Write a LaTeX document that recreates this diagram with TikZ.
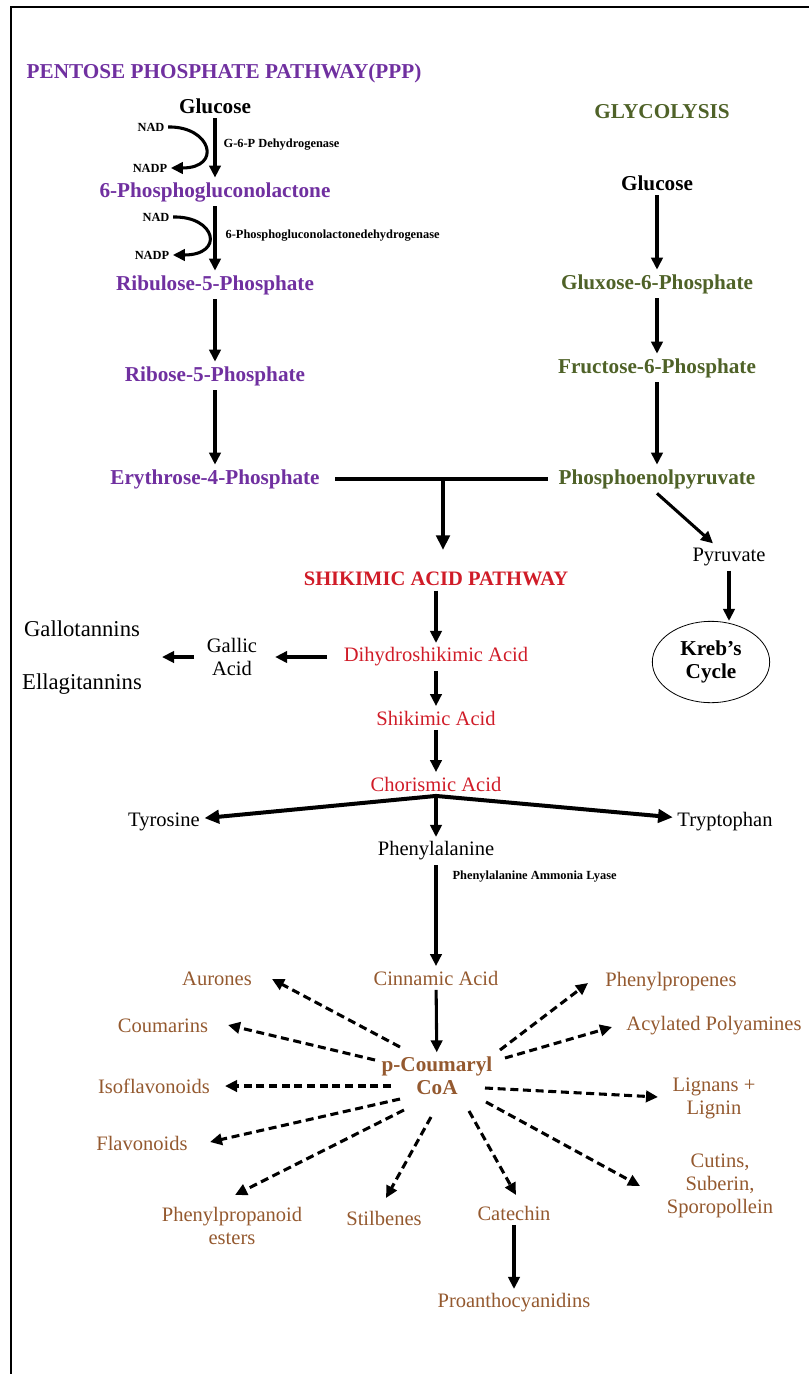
\documentclass[tikz,border=0pt]{standalone}
\usepackage{fontspec}
\setmainfont{Liberation Serif}
\usetikzlibrary{arrows.meta,calc,shapes.geometric}
\definecolor{pppcol}{HTML}{7030A0}
\definecolor{glycol}{HTML}{4F6228}
\definecolor{shikcol}{HTML}{D01C28}
\definecolor{phencol}{HTML}{94592F}
\newcommand{\bigfont}{\fontsize{15.4}{17.25}\selectfont}
\newcommand{\boldfont}{\fontsize{15.9}{17.25}\selectfont\bfseries}
\newcommand{\tanfont}{\fontsize{17}{19}\selectfont}
\newcommand{\enzfont}{\fontsize{9.3}{10}\selectfont}
\tikzset{
  base/.style={font=\bigfont, align=center},
  bold/.style={font=\boldfont, align=center},
  ppp/.style={bold, text=pppcol},
  gly/.style={bold, text=glycol},
  shik/.style={base, text=shikcol},
  phen/.style={base, text=phencol},
  enz/.style={font=\enzfont\bfseries, inner sep=2.5pt},
  arr/.style={line width=2.3pt, -{Triangle[length=9pt,width=8.5pt]}},
  bigarr/.style={line width=3pt, -{Triangle[length=11pt,width=10pt]}},
  darr/.style={arr, dash pattern=on 6pt off 3.5pt},
  bar/.style={line width=3.5pt}
}
\begin{document}
\begin{tikzpicture}[x=0.75pt, y=-0.75pt]
\useasboundingbox (0,0) rectangle (809,1374);
\draw[line width=1.6pt] (11,1374) -- (11,7) -- (809,7);

% pentose phosphate pathway
\node[ppp] (ppp) at (224,73) {PENTOSE PHOSPHATE PATHWAY(PPP)};
\node[bold] (glcA) at (215,106) {Glucose};
\node[enz] (nadA) at (151,127) {NAD};
\node[enz] (nadpA) at (150,168) {NADP};
\node[enz, anchor=west] (enzA) at (220,145) {G-6-P Dehydrogenase};
\node[ppp] (pgl) at (215,192) {6-Phosphogluconolactone};
\node[enz] (nadB) at (156,217) {NAD};
\node[enz] (nadpB) at (152,255) {NADP};
\node[enz, anchor=west] (enzB) at (222,236) {6-Phosphogluconolactonedehydrogenase};
\node[ppp] (ru5p) at (215,285) {Ribulose-5-Phosphate};
\node[ppp] (r5p) at (215,376) {Ribose-5-Phosphate};
\node[ppp] (e4p) at (215,479) {Erythrose-4-Phosphate};
\draw[arr] (glcA) -- (pgl);
\draw[arr] (pgl) -- (ru5p);
\draw[arr] (ru5p) -- (r5p);
\draw[arr] (r5p) -- (e4p);
\draw[arr] (nadA.east) .. controls +(43,-1) and +(52,0) .. (nadpA.east);
\draw[arr] (nadB.east) .. controls +(43,-1) and +(52,0) .. (nadpB.east);

% glycolysis
\node[gly] (glyc) at (662,112) {GLYCOLYSIS};
\node[bold] (glcB) at (657,183) {Glucose};
\node[gly] (g6p) at (657,284) {Gluxose-6-Phosphate};
\node[gly] (f6p) at (657,368) {Fructose-6-Phosphate};
\node[gly] (pep) at (657,479) {Phosphoenolpyruvate};
\node[base] (pyr) at (729,557) {Pyruvate};
\node[bold, ellipse, draw, line width=0.6pt, minimum width=88pt, minimum height=61pt] (krebs) at (711,662) {Kreb's\\Cycle};
\draw[arr] (glcB) -- (g6p);
\draw[arr] (g6p) -- (f6p);
\draw[arr] (f6p) -- (pep);
\draw[arr] (pep.south) -- ($(pyr.north)+(-16,0)$);
\draw[arr] (pyr) -- (pyr |- krebs.north);

% shikimic acid pathway
\coordinate (jn) at (443,480);
\node[shik, font=\bigfont\bfseries] (shik) at (436,579) {SHIKIMIC ACID PATHWAY};
\node[shik] (dhs) at (436,657) {Dihydroshikimic Acid};
\node[shik] (sa) at (436,718) {Shikimic Acid};
\node[shik] (ca) at (436,784) {Chorismic Acid};
\node[base] (gallic) at (232,657) {Gallic\\Acid};
\node[base, font=\tanfont] (gallo) at (82,629) {Gallotannins};
\node[base, font=\tanfont] (ellagi) at (82,684) {Ellagitannins};
\coordinate (tan) at (162,657);
\draw[bar] ($(e4p.east)+(11,0)$) -- ($(pep.west)+(-6,0)$);
\draw[bigarr, shorten >=13pt] (jn) -- (jn |- shik.north);
\draw[arr] (shik) -- (dhs);
\draw[arr] (dhs) -- (sa);
\draw[arr] (sa) -- (ca);
\draw[arr, shorten <=9pt, shorten >=10pt] (dhs) -- (gallic);
\draw[arr, shorten <=6pt] (gallic) -- (tan);

% amino acids
\node[base] (tyr) at (164,822) {Tyrosine};
\node[base] (trp) at (725,822) {Tryptophan};
\node[base] (phe) at (436,851) {Phenylalanine};
\draw[bigarr] (ca.south) -- (tyr);
\draw[bigarr] (ca.south) -- (trp);
\draw[arr] (ca.south) -- (phe);

% phenylpropanoids
\node[enz, anchor=west] (pal) at (449,877) {Phenylalanine Ammonia Lyase};
\node[phen] (cin) at (436,978) {Cinnamic Acid};
\node[phen, font=\boldfont] (pcoa) at (437,1076) {p-Coumaryl\\CoA};
\draw[arr] (phe) -- (cin);
\draw[arr] (cin) -- (pcoa);
\node[phen] (aur) at (217,979) {Aurones};
\node[phen] (cou) at (163,1026) {Coumarins};
\node[phen] (iso) at (154,1086) {Isoflavonoids};
\node[phen] (fla) at (142,1143) {Flavonoids};
\node[phen] (pes) at (232,1226) {Phenylpropanoid\\esters};
\node[phen] (sti) at (384,1218) {Stilbenes};
\node[phen] (cat) at (514,1213) {Catechin};
\node[phen] (pro) at (514,1303) {Proanthocyanidins};
\node[phen] (cut) at (720,1186) {Cutins,\\Suberin,\\Sporopollein};
\node[phen] (lig) at (714,1098) {Lignans +\\Lignin};
\node[phen] (acy) at (714,1026) {Acylated Polyamines};
\node[phen] (php) at (671,982) {Phenylpropenes};
\draw[darr] ($(pcoa)+(-37,-29)$) -- ($(aur)+(55,0)$);
\draw[darr] ($(pcoa)+(-62,-16)$) -- ($(cou)+(65,-1)$);
\draw[darr] ($(pcoa)+(-46,10)$) -- ($(iso)+(71,0)$);
\draw[darr] ($(pcoa)+(-37,23)$) -- ($(fla)+(68,-1)$);
\draw[darr] ($(pcoa)+(-33,34)$) -- ($(pes)+(3,-31)$);
\draw[darr] ($(pcoa)+(-6,41)$) -- ($(sti)+(2,-20)$);
\draw[darr] ($(pcoa)+(32,35)$) -- ($(cat)+(2,-18)$);
\draw[darr] ($(pcoa)+(49,26)$) -- ($(cut)+(-80,0)$);
\draw[darr] ($(pcoa)+(48,12)$) -- ($(lig)+(-56,-1)$);
\draw[darr] ($(pcoa)+(68,-18)$) -- ($(acy)+(-102,1)$);
\draw[darr] ($(pcoa)+(63,-26)$) -- ($(php)+(-83,1)$);
\draw[arr] (cat) -- (pro);
\end{tikzpicture}
\end{document}
